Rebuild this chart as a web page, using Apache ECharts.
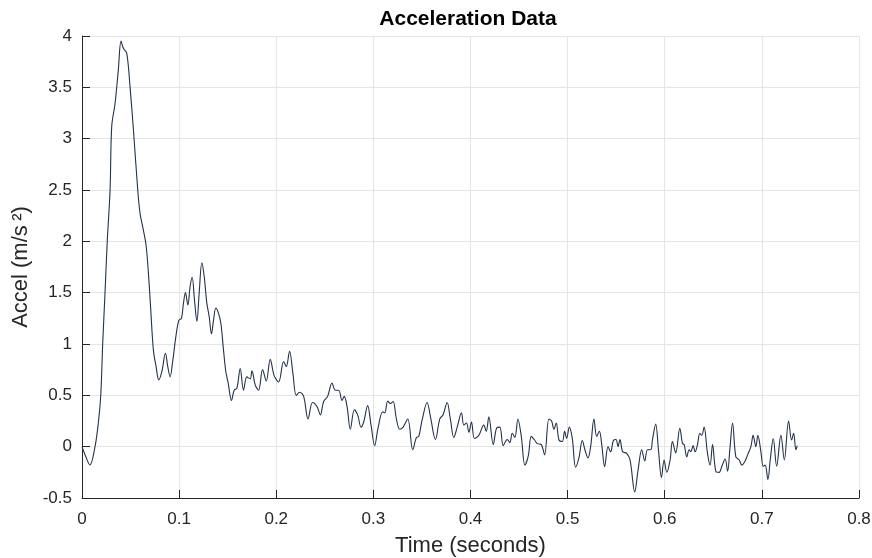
<!DOCTYPE html>
<html>
<head>
<meta charset="utf-8">
<script src="https://cdn.jsdelivr.net/npm/echarts@6/dist/echarts.min.js"></script>
<style>
html,body{margin:0;padding:0;background:#fff;}
#chart{width:872px;height:558px;}
</style>
</head>
<body>
<div id="chart"></div>
<script>
const title = 'Acceleration Data';
const xName = 'Time (seconds)';
const yName = 'Accel (m/s\u2009²)';

const time = [
0, 0.004, 0.0082, 0.0134, 0.0168, 0.0193, 0.0213, 0.0237, 0.026, 0.0289,
0.0306, 0.034, 0.0374, 0.0402, 0.0426, 0.0461, 0.0495, 0.053, 0.0574, 0.0598,
0.0632, 0.066, 0.0684, 0.0708, 0.0735, 0.0763, 0.079, 0.0822, 0.0859, 0.0883,
0.0907, 0.0935, 0.0966, 0.0997, 0.1024, 0.1045, 0.1065, 0.109, 0.1113, 0.1134,
0.1158, 0.1183, 0.1206, 0.1234, 0.1258, 0.1285, 0.1309, 0.1333, 0.1354, 0.1378,
0.1405, 0.143, 0.1457, 0.1481, 0.1505, 0.1539, 0.1567, 0.1595, 0.1629, 0.1663,
0.1697, 0.1732, 0.175, 0.1784, 0.1818, 0.1859, 0.1897, 0.1938, 0.1979, 0.2024,
0.2076, 0.2103, 0.2137, 0.2172, 0.2206, 0.2241, 0.2282, 0.2327, 0.2374, 0.242,
0.2454, 0.2488, 0.2529, 0.2574, 0.2608, 0.2643, 0.2677, 0.27, 0.2729, 0.2763,
0.2804, 0.2838, 0.2873, 0.29, 0.2941, 0.2976, 0.3013, 0.3048, 0.3096, 0.3117,
0.3148, 0.3175, 0.3203, 0.3237, 0.3271, 0.3306, 0.3354, 0.3405, 0.3443, 0.3467,
0.3502, 0.3553, 0.3588, 0.3639, 0.3684, 0.3718, 0.3759, 0.3794, 0.3828, 0.3863,
0.3907, 0.3931, 0.3959, 0.3983, 0.401, 0.4041, 0.4086, 0.4137, 0.4162, 0.4189,
0.4234, 0.4268, 0.4302, 0.4337, 0.4378, 0.4405, 0.443, 0.4457, 0.4488, 0.4523,
0.456, 0.4595, 0.4626, 0.466, 0.4688, 0.4729, 0.4763, 0.4807, 0.4835, 0.4859,
0.4883, 0.4911, 0.4945, 0.4969, 0.499, 0.5017, 0.5048, 0.5082, 0.5116, 0.5151,
0.5178, 0.5209, 0.5237, 0.5271, 0.5299, 0.5327, 0.535, 0.5381, 0.5416, 0.5443,
0.5471, 0.5498, 0.5519, 0.5539, 0.5567, 0.5608, 0.5643, 0.5691, 0.5725, 0.5763,
0.5794, 0.5822, 0.5856, 0.5873, 0.5907, 0.5935, 0.5966, 0.5993, 0.6021, 0.6055,
0.6079, 0.6113, 0.6155, 0.6183, 0.62, 0.6227, 0.6251, 0.6268, 0.6292, 0.6313,
0.6337, 0.6361, 0.6381, 0.6405, 0.644, 0.6467, 0.6492, 0.6526, 0.656, 0.6588,
0.6622, 0.6647, 0.667, 0.6698, 0.6732, 0.6767, 0.6794, 0.6822, 0.6853, 0.6887,
0.691, 0.6938, 0.6959, 0.699, 0.7014, 0.7034, 0.7062, 0.7086, 0.7117, 0.7152,
0.7196, 0.7231, 0.7275, 0.7306, 0.7327, 0.735, 0.7364
];

const accel = [
0, -0.1, -0.178, 0, 0.23, 0.5, 1.0, 1.5, 2.0, 2.5,
3.12, 3.34, 3.67, 3.95, 3.88, 3.83, 3.5, 3.08, 2.5, 2.27,
2.11, 1.96, 1.69, 1.33, 0.94, 0.78, 0.65, 0.73, 0.91, 0.78,
0.68, 0.84, 1.07, 1.23, 1.25, 1.40, 1.50, 1.38, 1.56, 1.65,
1.43, 1.22, 1.49, 1.79, 1.66, 1.40, 1.27, 1.10, 1.23, 1.35,
1.30, 1.20, 0.94, 0.73, 0.62, 0.45, 0.55, 0.57, 0.76, 0.55,
0.68, 0.66, 0.74, 0.60, 0.55, 0.75, 0.64, 0.85, 0.69, 0.63,
0.83, 0.78, 0.93, 0.71, 0.50, 0.53, 0.49, 0.27, 0.43, 0.39,
0.31, 0.44, 0.49, 0.62, 0.55, 0.55, 0.45, 0.49, 0.39, 0.17,
0.36, 0.31, 0.19, 0.24, 0.40, 0.21, 0.01, 0.18, 0.34, 0.33,
0.445, 0.42, 0.44, 0.27, 0.17, 0.19, 0.27, -0.03, 0.09, 0.10,
0.26, 0.43, 0.29, 0.07, 0.27, 0.31, 0.43, 0.26, 0.09, 0.19,
0.33, 0.21, 0.23, 0.14, 0.24, 0.08, 0.11, 0.21, 0.15, 0.29,
0.02, 0.18, 0.19, 0.01, 0.07, 0.04, 0.13, 0.09, 0.27, 0.10,
-0.18, -0.09, 0.10, 0.065, 0.03, 0.02, -0.08, 0.27, 0.25, 0.17,
0.23, 0.065, 0.05, 0.15, 0.08, 0.19, 0.08, -0.20, -0.11, 0.06,
-0.03, -0.11, 0, 0.27, 0.10, 0.15, 0.03, -0.195, 0, -0.05,
0.06, 0.07, 0.0, 0.07, -0.05, -0.065, -0.13, -0.44, -0.23, -0.03,
-0.14, -0.03, -0.03, 0.065, 0.22, -0.03, -0.30, -0.13, -0.25, -0.13,
0.05, -0.06, 0.18, 0.03, 0.02, -0.10, -0.03, -0.05, 0.01, -0.05,
0.02, 0.13, 0.11, 0.19, -0.065, -0.18, 0.02, -0.24, -0.25, -0.19,
-0.12, -0.24, -0.03, 0.23, -0.10, -0.13, -0.18, -0.15, -0.08, 0,
0.11, 0, 0.11, -0.05, -0.19, -0.18, -0.32, -0.13, 0.08, -0.19,
0.11, -0.13, 0.25, 0.065, 0.13, -0.03, 0.01
];

const xTicks = {min: 0, max: 0.8, interval: 0.1};
const yTicks = {min: -0.5, max: 4, interval: 0.5};

const data = time.map((t, i) => [t, accel[i]]);
const font = '"Liberation Sans", Helvetica, Arial, sans-serif';
const axisColor = '#262626';
const gridColor = '#e5e5e5';

const chart = echarts.init(document.getElementById('chart'), null, {renderer: 'canvas'});
chart.setOption({
  animation: false,
  backgroundColor: '#ffffff',
  title: {
    text: title,
    left: 463,
    textAlign: 'center',
    top: 4,
    textStyle: {fontFamily: font, fontSize: 21, fontWeight: 'bold', color: '#000'}
  },
  grid: {left: 82, right: 13, top: 36, bottom: 60, containLabel: false, outerBoundsMode: 'none'},
  xAxis: {
    type: 'value',
    min: xTicks.min, max: xTicks.max, interval: xTicks.interval,
    name: xName,
    nameLocation: 'middle',
    nameGap: 37,
    nameTextStyle: {fontFamily: font, fontSize: 22, color: axisColor},
    axisLine: {show: true, onZero: false, lineStyle: {color: axisColor, width: 1}},
    axisTick: {show: true, inside: true, length: 8, lineStyle: {color: axisColor}},
    axisLabel: {fontFamily: font, fontSize: 17, color: axisColor, margin: 13,
      formatter: v => String(Math.round(v * 10) / 10)},
    splitLine: {show: true, lineStyle: {color: gridColor, width: 1}}
  },
  yAxis: {
    type: 'value',
    min: yTicks.min, max: yTicks.max, interval: yTicks.interval,
    name: yName,
    nameLocation: 'middle',
    nameGap: 46,
    nameRotate: 90,
    nameTextStyle: {fontFamily: font, fontSize: 22, color: axisColor},
    axisLine: {show: true, onZero: false, lineStyle: {color: axisColor, width: 1}},
    axisTick: {show: true, inside: true, length: 8, lineStyle: {color: axisColor}},
    axisLabel: {fontFamily: font, fontSize: 17, color: axisColor, margin: 10,
      formatter: v => String(Math.round(v * 10) / 10)},
    splitLine: {show: true, lineStyle: {color: gridColor, width: 1}}
  },
  series: [{
    type: 'line',
    data: data,
    showSymbol: false,
    smooth: 0.35,
    lineStyle: {color: '#22324a', width: 1.1},
    clip: true
  }]
});
</script>
</body>
</html>
